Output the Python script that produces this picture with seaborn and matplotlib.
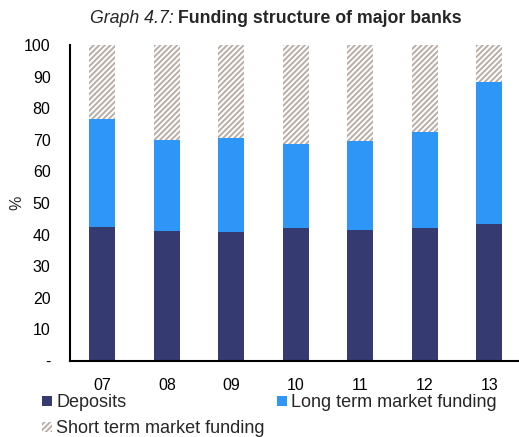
import numpy as np
import pandas as pd
import matplotlib
matplotlib.use("Agg")
import matplotlib.pyplot as plt
import seaborn as sns
from matplotlib.patches import Patch

years = ["07", "08", "09", "10", "11", "12", "13"]
deposits = [42.3, 41.0, 40.7, 42.0, 41.6, 42.0, 43.5]
long_term = [34.4, 29.0, 30.0, 26.8, 28.1, 30.5, 44.8]
short_term = [23.3, 30.0, 29.3, 31.2, 30.3, 27.5, 11.7]

DEP_COLOR = "#353A70"
LONG_COLOR = "#2E96F7"
SHORT_COLOR = "#B9AEA6"

sns.set_style("white")
plt.rcParams["font.family"] = ["Liberation Sans", "DejaVu Sans"]
plt.rcParams["hatch.linewidth"] = 1.4
plt.rcParams["hatch.color"] = SHORT_COLOR

df = pd.DataFrame({
    "year": years,
    "deposits": deposits,
    "long": long_term,
    "short": short_term,
})
df["dep_long"] = df["deposits"] + df["long"]
df["total"] = df["dep_long"] + df["short"]

fig = plt.figure(figsize=(5.19, 4.37), dpi=100)
ax = fig.add_axes([0.135, 0.174, 0.87, 0.723])

# stacked bars drawn as overlapping cumulative layers
sns.barplot(data=df, x="year", y="total", color="white", width=0.4,
            edgecolor=SHORT_COLOR, linewidth=0, hatch="//////", ax=ax,
            saturation=1)
sns.barplot(data=df, x="year", y="dep_long", color=LONG_COLOR, width=0.4,
            linewidth=0, ax=ax, saturation=1)
sns.barplot(data=df, x="year", y="deposits", color=DEP_COLOR, width=0.4,
            linewidth=0, ax=ax, saturation=1)

ax.set_xlim(-0.5, 6.5)
ax.set_ylim(0, 100)
ax.set_yticks(range(0, 101, 10))
ax.set_yticklabels(["-"] + [str(v) for v in range(10, 101, 10)])
ax.tick_params(axis="both", length=0, labelsize=11.5, colors="black")
ax.tick_params(axis="x", pad=12)
ax.tick_params(axis="y", pad=14)
ax.set_xlabel("")
ax.set_ylabel("%", fontsize=11.5)
ax.yaxis.set_label_coords(-0.102, 0.5)

for side in ["top", "right"]:
    ax.spines[side].set_visible(False)
for side in ["left", "bottom"]:
    ax.spines[side].set_color("black")
    ax.spines[side].set_linewidth(1.5)

fig.text(0.343, 0.958, "Graph 4.7: ", ha="right", va="center",
         fontsize=12.8, style="italic")
fig.text(0.343, 0.958, "Funding structure of major banks", ha="left",
         va="center", fontsize=12.8, weight="bold")

# column-major fill: col 1 = Deposits / Short, col 2 = Long
handles = [
    Patch(facecolor=DEP_COLOR, edgecolor="none"),
    Patch(facecolor="white", edgecolor=SHORT_COLOR, hatch="//////", linewidth=0),
    Patch(facecolor=LONG_COLOR, edgecolor="none"),
]
labels = ["Deposits", "Short term market funding", "Long term market funding"]
fig.legend(handles, labels, ncol=2, loc="upper left",
           bbox_to_anchor=(0.067, 0.114), frameon=False, fontsize=13,
           handlelength=0.55, handleheight=0.55, handletextpad=0.25,
           columnspacing=0.65, labelspacing=0.5, borderaxespad=0)

fig.savefig("out.png", dpi=100)
